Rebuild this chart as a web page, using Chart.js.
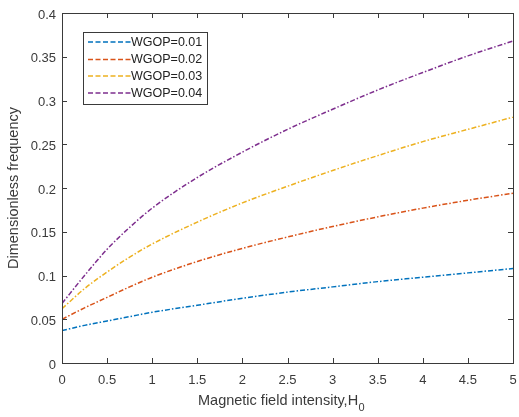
<!DOCTYPE html>
<html>
<head>
<meta charset="utf-8">
<script src="https://cdn.jsdelivr.net/npm/chart.js@4.4.1/dist/chart.umd.min.js"></script>
<style>
  html, body { margin: 0; padding: 0; background: #fff; }
  #wrap { width: 519px; height: 417px; }
</style>
</head>
<body>
<div id="wrap"><canvas id="freqChart"></canvas></div>
<script>
// H0 sample points and frequency curves per WGOP value
const fieldValues = [0, 0.25, 0.5, 0.75, 1, 1.5, 2, 2.5, 3, 3.5, 4, 4.5, 5];
const seriesLabels = ["WGOP=0.01", "WGOP=0.02", "WGOP=0.03", "WGOP=0.04"];
const wgop001 = [0.037, 0.043, 0.048, 0.053, 0.058, 0.066, 0.074, 0.081, 0.087, 0.093, 0.098, 0.103, 0.108];
const wgop002 = [0.050, 0.063, 0.075, 0.087, 0.098, 0.116, 0.131, 0.144, 0.156, 0.167, 0.177, 0.186, 0.194];
const wgop003 = [0.062, 0.085, 0.104, 0.121, 0.136, 0.161, 0.183, 0.202, 0.220, 0.237, 0.253, 0.267, 0.281];
const wgop004 = [0.068, 0.100, 0.130, 0.155, 0.177, 0.212, 0.241, 0.267, 0.290, 0.312, 0.332, 0.351, 0.368];
const xTicks = [0, 0.5, 1, 1.5, 2, 2.5, 3, 3.5, 4, 4.5, 5];
const yTicks = [0, 0.05, 0.1, 0.15, 0.2, 0.25, 0.3, 0.35, 0.4];

const lineColors = ["#0072BD", "#D95319", "#EDB120", "#7E2F8E"];
const dashDot = [5, 2, 1.5, 2];
const axisColor = "#3a3a3a";
const fontFamily = "Arial, 'Liberation Sans', sans-serif";

function toPoints(values) {
    return values.map((y, i) => ({ x: fieldValues[i], y: y }));
}

const datasets = [wgop001, wgop002, wgop003, wgop004].map((values, i) => ({
    label: seriesLabels[i],
    data: toPoints(values),
    borderColor: lineColors[i],
    borderWidth: 1.5,
    borderDash: dashDot,
    pointRadius: 0,
    fill: false,
    cubicInterpolationMode: "monotone",
}));

// fixed axis box sizes, no automatic label padding
function fixX(scale) {
    scale.height = 54;
    scale.paddingLeft = 0;
    scale.paddingRight = 0;
}
function fixY(scale) {
    scale.width = 62;
    scale.paddingTop = 0;
    scale.paddingBottom = 0;
}

// Box outline, inward ticks, axis titles and the legend box
const matlabAxes = {
    id: "matlabAxes",
    afterDraw(chart) {
        const ctx = chart.ctx;
        const area = chart.chartArea;
        const xs = chart.scales.x;
        const ys = chart.scales.y;
        const tick = 5;
        ctx.save();
        ctx.strokeStyle = axisColor;
        ctx.lineWidth = 1;
        ctx.setLineDash([]);
        ctx.strokeRect(Math.round(area.left) + 0.5, Math.round(area.top) + 0.5,
            Math.round(area.right - area.left), Math.round(area.bottom - area.top));
        ctx.beginPath();
        xTicks.forEach((v) => {
            const px = Math.round(xs.getPixelForValue(v)) + 0.5;
            ctx.moveTo(px, area.bottom); ctx.lineTo(px, area.bottom - tick);
            ctx.moveTo(px, area.top); ctx.lineTo(px, area.top + tick);
        });
        yTicks.forEach((v) => {
            const py = Math.round(ys.getPixelForValue(v)) + 0.5;
            ctx.moveTo(area.left, py); ctx.lineTo(area.left + tick, py);
            ctx.moveTo(area.right, py); ctx.lineTo(area.right - tick, py);
        });
        ctx.stroke();

        // x title with subscript
        ctx.fillStyle = axisColor;
        ctx.textBaseline = "alphabetic";
        ctx.textAlign = "left";
        const main = "Magnetic field intensity,H";
        ctx.font = "14.5px " + fontFamily;
        const mainW = ctx.measureText(main).width;
        ctx.fillText(main, 198, 405);
        ctx.font = "11px " + fontFamily;
        ctx.fillText("0", 198 + mainW + 0.5, 411);

        // y title
        ctx.save();
        ctx.translate(14, (area.top + area.bottom) / 2);
        ctx.rotate(-Math.PI / 2);
        ctx.textAlign = "center";
        ctx.textBaseline = "middle";
        ctx.font = "14.5px " + fontFamily;
        ctx.fillText("Dimensionless frequency", 0, 0);
        ctx.restore();

        // legend
        const box = { x: 83.5, y: 32.5, w: 124, h: 72 };
        ctx.fillStyle = "#ffffff";
        ctx.fillRect(box.x, box.y, box.w, box.h);
        ctx.strokeStyle = axisColor;
        ctx.lineWidth = 1;
        ctx.strokeRect(box.x, box.y, box.w, box.h);
        const rowY = [42, 59.5, 76, 93];
        chart.data.datasets.forEach((ds, i) => {
            ctx.strokeStyle = ds.borderColor;
            ctx.lineWidth = 1.5;
            ctx.setLineDash([5, 2.5]);
            ctx.beginPath();
            ctx.moveTo(88, rowY[i]);
            ctx.lineTo(131, rowY[i]);
            ctx.stroke();
            ctx.setLineDash([]);
            ctx.fillStyle = "#222";
            ctx.font = "12.5px " + fontFamily;
            ctx.textAlign = "left";
            ctx.textBaseline = "middle";
            ctx.fillText(ds.label, 131, rowY[i] + 0.5);
        });
        ctx.restore();
    },
};

const ctx = document.getElementById("freqChart").getContext("2d");
new Chart(ctx, {
    type: "line",
    data: { datasets: datasets },
    options: {
        responsive: true,
        maintainAspectRatio: false,
        animation: false,
        layout: { padding: { top: 13, right: 6, left: 0, bottom: 0 } },
        plugins: {
            legend: { display: false },
            tooltip: { enabled: false },
        },
        scales: {
            x: {
                type: "linear",
                min: 0,
                max: 5,
                afterBuildTicks: (scale) => { scale.ticks = xTicks.map((v) => ({ value: v })); },
                afterFit: fixX,
                grid: { display: false, drawTicks: false },
                border: { display: false },
                ticks: {
                    padding: 10,
                    color: axisColor,
                    font: { family: fontFamily, size: 13 },
                    callback: (v) => String(v),
                },
            },
            y: {
                type: "linear",
                min: 0,
                max: 0.4,
                afterBuildTicks: (scale) => { scale.ticks = yTicks.map((v) => ({ value: v })); },
                afterFit: fixY,
                grid: { display: false, drawTicks: false },
                border: { display: false },
                ticks: {
                    padding: 6,
                    labelOffset: 2,
                    color: axisColor,
                    font: { family: fontFamily, size: 13 },
                    callback: (v) => String(v),
                },
            },
        },
    },
    plugins: [matlabAxes],
});
</script>
</body>
</html>
